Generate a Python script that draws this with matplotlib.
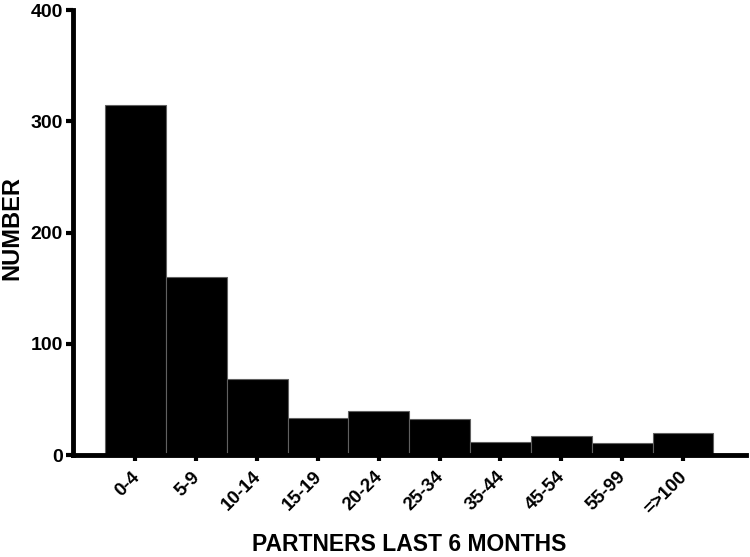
import matplotlib
matplotlib.use("Agg")
import matplotlib.pyplot as plt

categories = ["0-4", "5-9", "10-14", "15-19", "20-24", "25-34",
              "35-44", "45-54", "55-99", "=>100"]
counts = [315, 160, 68, 33, 39.5, 32, 12, 17, 10.5, 19.5]

plt.rcParams["font.family"] = ["Liberation Sans", "DejaVu Sans"]
plt.rcParams["font.weight"] = "bold"

fig = plt.figure(figsize=(7.5, 5.57), dpi=100)
ax = fig.add_axes([0.097, 0.183, 0.898, 0.799])

x = list(range(len(categories)))
ax.bar(x, counts, width=1.0, color="black", edgecolor="#606060", linewidth=0.8)

ax.set_xlim(-1.03, 10.04)
ax.set_ylim(0, 400)
ax.set_yticks([0, 100, 200, 300, 400])
ax.set_xticks(x)
ax.set_xticklabels(categories, rotation=45, ha="right", va="center_baseline",
                   rotation_mode="anchor", fontsize=13.5, fontweight="bold")
for lab in ax.get_yticklabels():
    lab.set_fontsize(14)
    lab.set_fontweight("bold")

for side in ("top", "right"):
    ax.spines[side].set_visible(False)
for side in ("left", "bottom"):
    ax.spines[side].set_linewidth(3.5)

ax.tick_params(axis="both", width=3, length=5, pad=2)
ax.tick_params(axis="x", length=4, pad=9)

ax.set_ylabel("NUMBER", fontsize=17, fontweight="bold", va="center")
ax.yaxis.set_label_coords(-0.09, 0.51)
ax.set_xlabel("PARTNERS LAST 6 MONTHS", fontsize=16.5, fontweight="bold", va="center")
ax.xaxis.set_label_coords(0.5, -0.2)

fig.savefig("out.png", dpi=100)
